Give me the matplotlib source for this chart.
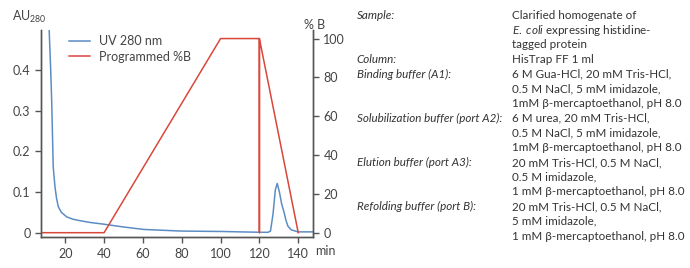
import numpy as np
import matplotlib.pyplot as plt

# UV 280 nm trace (min, AU280)
uv_time = [11.7, 12.5, 13.0, 13.8, 14.7, 15.5, 16.4, 18.0, 20.7, 24.0, 27.6, 33.0, 39.7, 50.0,
           60.4, 70.0, 79.5, 90.0, 100.2, 110.0, 120.9, 124.5, 125.7, 127.0, 128.2, 129.2,
           130.3, 131.5, 132.6, 133.7, 134.7, 136.4, 139.9, 147.5]
uv_abs = [0.50, 0.40, 0.326, 0.162, 0.113, 0.085, 0.064, 0.050, 0.039, 0.033, 0.0295, 0.025,
          0.021, 0.014, 0.008, 0.006, 0.004, 0.0035, 0.003, 0.002, 0.001, 0.001, 0.004, 0.045,
          0.105, 0.121, 0.100, 0.070, 0.052, 0.030, 0.016, 0.007, 0.002, 0.002]

# programmed gradient (min, %B)
b_time = [7.5, 40, 100, 120, 120, 120, 140]
b_pct = [0, 0, 100, 100, 0, 100, 0]

x_ticks = [20, 40, 60, 80, 100, 120, 140]
au_ticks = [0, 0.1, 0.2, 0.3, 0.4]
pct_ticks = [0, 20, 40, 60, 80, 100]

labels = ["Sample:", "", "", "Column:", "Binding buffer (A1):", "", "",
          "Solubilization buffer (port A2):", "", "", "Elution buffer (port A3):", "", "",
          "Refolding buffer (port B):", "", ""]
values = ["Clarified homogenate of", "$\\it{E.\\ coli}$ expressing histidine-", "tagged protein",
          "HisTrap FF 1 ml",
          "6 M Gua-HCl, 20 mM Tris-HCl,", "0.5 M NaCl, 5 mM imidazole,",
          "1mM β-mercaptoethanol, pH 8.0",
          "6 M urea, 20 mM Tris-HCl,", "0.5 M NaCl, 5 mM imidazole,",
          "1mM β-mercaptoethanol, pH 8.0",
          "20 mM Tris-HCl, 0.5 M NaCl,", "0.5 M imidazole,",
          "1 mM β-mercaptoethanol, pH 8.0",
          "20 mM Tris-HCl, 0.5 M NaCl,", "5 mM imidazole,",
          "1 mM β-mercaptoethanol, pH 8.0"]

blue = '#5b8dc4'
red = '#d9483b'
grey = '#555555'
txt = '#444444'
plt.rcParams['font.family'] = ['Lato', 'DejaVu Sans']
plt.rcParams['mathtext.fontset'] = 'custom'
plt.rcParams['mathtext.it'] = 'Lato:italic'
plt.rcParams['mathtext.rm'] = 'Lato'

fig = plt.figure(figsize=(6.9, 2.68), dpi=100)
ax = fig.add_axes([0.0594, 0.1146, 0.3942, 0.7734])
ax2 = ax.twinx()

lo, hi = -0.0113, 0.498
ax.set_xlim(7.5, 147.6)
ax.set_ylim(lo, hi)
ax2.set_ylim(lo * 100 / 0.477, hi * 100 / 0.477)

l1, = ax.plot(uv_time, uv_abs, color=blue, lw=1.1, label='UV 280 nm')
l2, = ax2.plot(b_time, b_pct, color=red, lw=1.1, label='Programmed %B')

ax.set_xticks(x_ticks)
ax.set_yticks(au_ticks)
ax.set_yticklabels(['0', '0.1', '0.2', '0.3', '0.4'])
ax2.set_yticks(pct_ticks)

for a in (ax, ax2):
    a.spines['top'].set_visible(False)
    for s in a.spines.values():
        s.set_color(grey)
        s.set_linewidth(1.0)
    a.tick_params(colors=grey, labelcolor=txt, labelsize=9, length=4, width=1.0)

ax.legend(handles=[l1, l2], loc='upper left', bbox_to_anchor=(0.06, 1.03), frameon=False,
          fontsize=9, handlelength=1.7, handletextpad=0.7, labelspacing=0.3, labelcolor=txt)

fig.text(0.017, 0.937, 'AU$_{280}$', fontsize=9, color=txt, va='center')
fig.text(0.441, 0.905, '% B', fontsize=9, color=txt, va='center')
fig.text(0.457, 0.063, 'min', fontsize=9, color=txt, va='center')

y0 = 1 - 15.5 / 268
dy = 14.7 / 268
for i, (lab, val) in enumerate(zip(labels, values)):
    y = y0 - i * dy
    if lab:
        fig.text(0.517, y, lab, fontsize=8.4, style='italic', color='#333333', va='center')
    fig.text(0.742, y, val, fontsize=8.4, color='#333333', va='center')

fig.savefig('out.png', dpi=100)
